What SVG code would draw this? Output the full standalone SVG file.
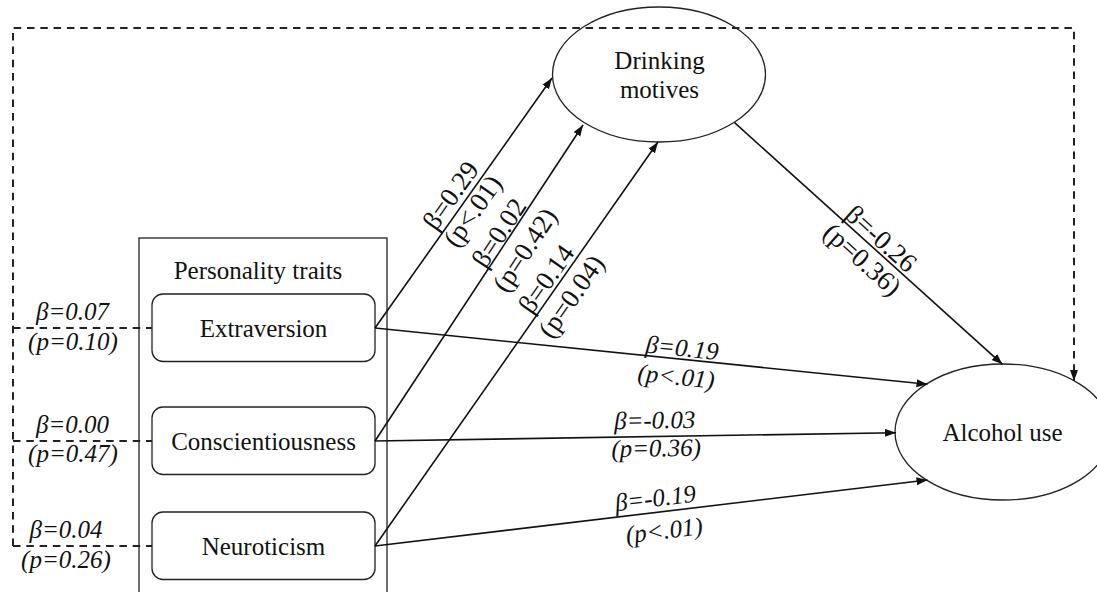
<svg xmlns="http://www.w3.org/2000/svg" width="1097" height="592" viewBox="0 0 1097 592">
<style>
.node{fill:#fff;stroke:#222;stroke-width:1.3}
.t{font-family:"Liberation Serif","Times New Roman",serif;font-size:25px;fill:#111;text-anchor:middle}
.lr{font-family:"Liberation Serif","Times New Roman",serif;font-size:27px;fill:#111;text-anchor:middle}
.li{font-family:"Liberation Serif","Times New Roman",serif;font-size:25px;font-style:italic;fill:#111;text-anchor:middle}
.c{fill:none;stroke:#111;stroke-width:1.6}
.d{fill:none;stroke:#222;stroke-width:2;stroke-dasharray:7.5 5.8}
</style>
<defs>
<marker id="ah" markerUnits="userSpaceOnUse" markerWidth="12" markerHeight="10" refX="11" refY="4" orient="auto">
<path d="M0,0 L11,4 L0,8 Z" fill="#111"/>
</marker>
</defs>
<rect width="1097" height="592" fill="#fff"/>

<g id="personality-traits">
<rect x="139" y="238" width="248" height="370" fill="none" stroke="#222" stroke-width="1.3"/>
<text class="t" x="258" y="279">Personality traits</text>
</g>
<g id="extraversion">
<rect class="node" x="152" y="294" width="223" height="67.5" rx="11"/>
<text class="t" x="263.5" y="337">Extraversion</text>
</g>
<g id="conscientiousness">
<rect class="node" x="152" y="407" width="223" height="67.5" rx="11"/>
<text class="t" x="263.5" y="450">Conscientiousness</text>
</g>
<g id="neuroticism">
<rect class="node" x="152" y="512" width="223" height="67.5" rx="11"/>
<text class="t" x="263.5" y="555">Neuroticism</text>
</g>
<g id="drinking-motives">
<ellipse class="node" cx="659" cy="74.5" rx="106.5" ry="67.5"/>
<text class="t" x="659.5" y="69">Drinking</text>
<text class="t" x="659.5" y="98">motives</text>
</g>
<g id="alcohol-use">
<ellipse class="node" cx="1003" cy="432" rx="108" ry="68"/>
<text class="t" x="1002.5" y="441">Alcohol use</text>
</g>

<g id="connectors">
<path class="d" d="M13,546 L13,28 L1074,28 L1074,381" marker-end="url(#ah)"/>
<path class="d" d="M13,328 L152,328"/>
<path class="d" d="M13,441 L152,441"/>
<path class="d" d="M13,546 L152,546"/>
<path class="c" d="M375,328 L552,78" marker-end="url(#ah)"/>
<path class="c" d="M375,441 L583,125" marker-end="url(#ah)"/>
<path class="c" d="M375,546 L658,142" marker-end="url(#ah)"/>
<path class="c" d="M734.6,122.7 L1002.5,364.3" marker-end="url(#ah)"/>
<path class="c" d="M375,328 L927.5,384.3" marker-end="url(#ah)"/>
<path class="c" d="M375,441 L896,432.7" marker-end="url(#ah)"/>
<path class="c" d="M375,546 L927.5,480" marker-end="url(#ah)"/>
</g>

<g id="labels">
<text class="li" x="72.5" y="320">β=0.07</text>
<text class="li" x="73" y="350">(p=0.10)</text>
<text class="li" x="72.5" y="433">β=0.00</text>
<text class="li" x="73" y="462">(p=0.47)</text>
<text class="li" x="66" y="538">β=0.04</text>
<text class="li" x="66" y="568">(p=0.26)</text>

<g transform="translate(462.9,204) rotate(-54.7)">
<text class="lr" x="0" y="-6">β=0.29</text>
<text class="lr" x="0" y="21">(p&lt;.01)</text>
</g>
<g transform="translate(508.1,238.9) rotate(-56.6)">
<text class="lr" x="0" y="-2">β=0.02</text>
<text class="lr" x="0" y="29">(p=0.42)</text>
</g>
<g transform="translate(557,286.4) rotate(-55)">
<text class="lr" x="0" y="-4">β=0.14</text>
<text class="lr" x="0" y="26.5">(p=0.04)</text>
</g>
<g transform="translate(873.1,247.6) rotate(42)">
<text class="lr" x="0" y="-3">β=-0.26</text>
<text class="lr" x="0" y="25">(p=0.36)</text>
</g>
<g transform="translate(680,359.1) rotate(5.8)">
<text class="li" x="1" y="-3">β=0.19</text>
<text class="li" x="-2" y="26">(p&lt;.01)</text>
</g>
<g transform="translate(655,436.5) rotate(-0.9)">
<text class="li" x="0" y="-8">β=-0.03</text>
<text class="li" x="1" y="20">(p=0.36)</text>
</g>
<g transform="translate(660,512) rotate(-6.8)">
<text class="li" x="-3" y="-6">β=-0.19</text>
<text class="li" x="2" y="27">(p&lt;.01)</text>
</g>
</g>
</svg>
